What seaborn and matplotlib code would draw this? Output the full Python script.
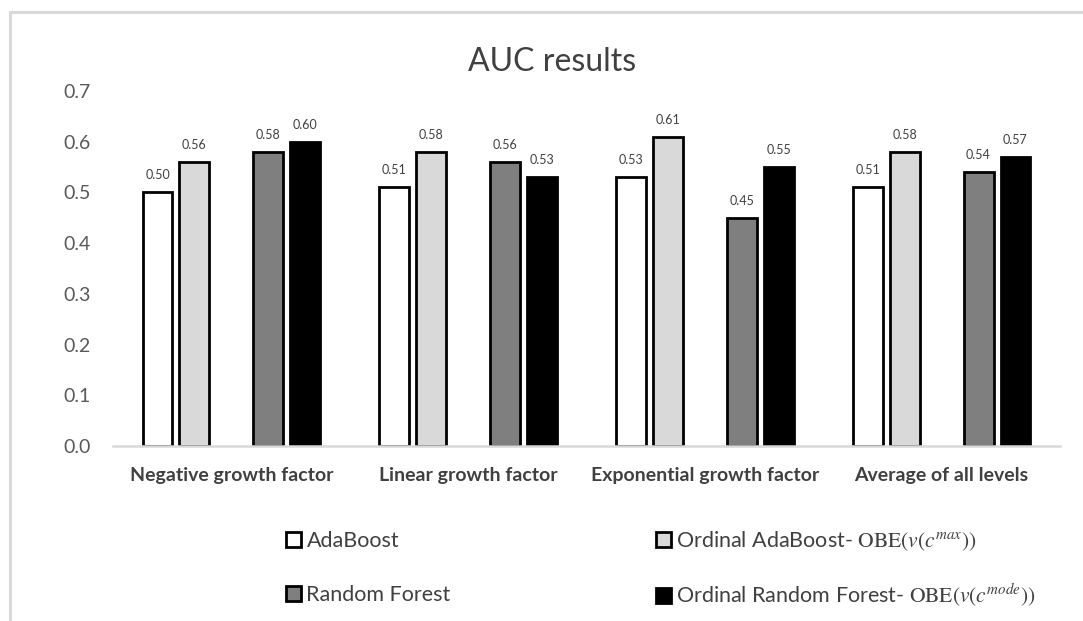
import matplotlib
matplotlib.use("Agg")
import matplotlib.pyplot as plt
from matplotlib.patches import Patch
from matplotlib.lines import Line2D
import seaborn as sns
import pandas as pd

# ---- data -------------------------------------------------------------
categories = ["Negative growth factor", "Linear growth factor",
              "Exponential growth factor", "Average of all levels"]
adaboost = [0.50, 0.51, 0.53, 0.51]
ordinal_adaboost = [0.56, 0.58, 0.61, 0.58]
random_forest = [0.58, 0.56, 0.45, 0.54]
ordinal_random_forest = [0.60, 0.53, 0.55, 0.57]
y_ticks = [0.0, 0.1, 0.2, 0.3, 0.4, 0.5, 0.6, 0.7]

series_names = ["AdaBoost", "Ordinal AdaBoost", "Random Forest", "Ordinal Random Forest"]
series_values = [adaboost, ordinal_adaboost, random_forest, ordinal_random_forest]
legend_labels = [
    "AdaBoost",
    r"Ordinal AdaBoost- $\mathrm{OBE}(v(c^{max}))$",
    "Random Forest",
    r"Ordinal Random Forest- $\mathrm{OBE}(v(c^{mode}))$",
]

rows = []
for name, vals in zip(series_names, series_values):
    for cat, v in zip(categories, vals):
        rows.append({"category": cat, "series": name, "value": v})
df = pd.DataFrame(rows)

# an empty slot separates the AdaBoost pair from the Random Forest pair
spacer = " "
hue_order = ["AdaBoost", "Ordinal AdaBoost", spacer, "Random Forest", "Ordinal Random Forest"]
colors = {"AdaBoost": "#ffffff", "Ordinal AdaBoost": "#d9d9d9", spacer: "#ffffff",
          "Random Forest": "#7f7f7f", "Ordinal Random Forest": "#000000"}

# ---- styling ----------------------------------------------------------
sns.set_theme(style="white")
plt.rcParams["font.family"] = ["Lato", "DejaVu Sans"]
plt.rcParams["mathtext.fontset"] = "stix"

W, H = 1083, 621
fig = plt.figure(figsize=(W / 100, H / 100), dpi=100)
ax = fig.add_axes([113 / W, 1 - 446 / H, (1060 - 113) / W, (446 - 91) / H])

sns.barplot(data=df, x="category", y="value", hue="series", hue_order=hue_order,
            order=categories, palette=colors, width=0.78, gap=0.19,
            edgecolor="black", linewidth=2.0, legend=False, ax=ax)

for cont in ax.containers:
    ax.bar_label(cont, fmt="%.2f", padding=8, fontsize=9, color="#404040")

ax.set_ylim(0, 0.7)
ax.set_xlim(-0.5, len(categories) - 0.5)
ax.set_yticks(y_ticks)
ax.set_yticklabels([f"{t:.1f}" for t in y_ticks])
ax.tick_params(axis="y", length=0, pad=16, labelsize=14, labelcolor="#595959")
ax.tick_params(axis="x", length=0, pad=15, labelsize=14, labelcolor="#404040")
for lab in ax.get_xticklabels():
    lab.set_fontweight("bold")
ax.set_xlabel("")
ax.set_ylabel("")
ax.grid(False)
for s in ["left", "right", "top"]:
    ax.spines[s].set_visible(False)
ax.spines["bottom"].set_color("#d9d9d9")
ax.spines["bottom"].set_linewidth(1.8)

fig.text(552 / W, 1 - 62 / H, "AUC results", ha="center", va="center",
         fontsize=23, color="#404040")

# legend: one entry per slot, two columns under the chart
handles = [Patch(facecolor=colors[n], edgecolor="black", linewidth=2.0) for n in series_names]
leg_kw = dict(loc="center left", frameon=False, fontsize=15.5, handlelength=0.7,
              handleheight=0.7, handletextpad=0.25, borderpad=0, borderaxespad=0)
slots = [(286, 541), (656, 541), (286, 595), (656, 595)]
for h, lab, (px, py) in zip(handles, legend_labels, slots):
    leg = fig.legend([h], [lab], bbox_to_anchor=(px / W, 1 - py / H), **leg_kw)
    for t in leg.get_texts():
        t.set_color("#404040")

# light outer frame
frame_color = "#d9d9d9"
fig.add_artist(Line2D([10 / W, 10 / W], [0, 1 - 12 / H], color=frame_color, lw=2.2,
                      transform=fig.transFigure))
fig.add_artist(Line2D([10 / W, 1], [1 - 12 / H, 1 - 12 / H], color=frame_color, lw=2.2,
                      transform=fig.transFigure))

fig.savefig("out.png", dpi=100, facecolor="white")
